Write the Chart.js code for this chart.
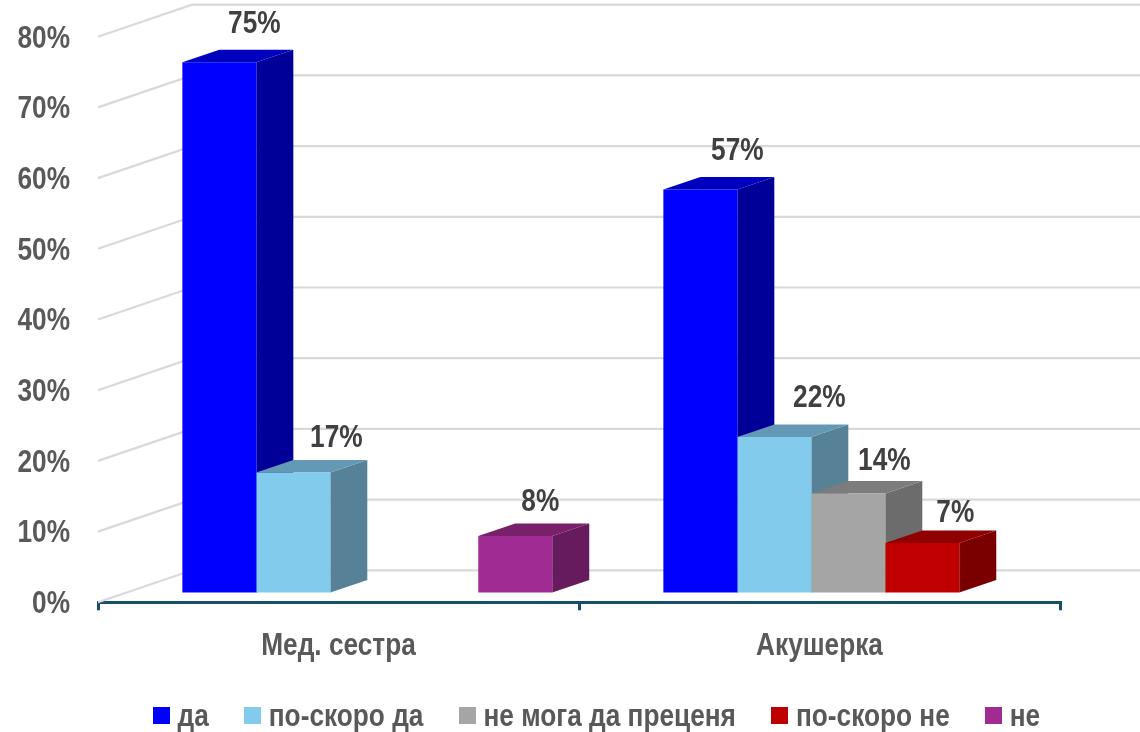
<!DOCTYPE html>
<html><head><meta charset="utf-8">
<style>html,body{margin:0;padding:0;background:#fff}canvas{display:block}</style>
<script src="https://cdn.jsdelivr.net/npm/chart.js@4"></script>
</head><body><canvas id="c" width="1140" height="732"></canvas>
<script>
const categories = ['Мед. сестра', 'Акушерка'];
const seriesNames = ['да', 'по-скоро да', 'не мога да преценя', 'по-скоро не', 'не'];
const da = [75, 57];
const poSkoroDa = [17, 22];
const neMoga = [null, 14];
const poSkoroNe = [null, 7];
const ne = [8, null];
const yTicksMax = 80;
const frontColors = ['#0000ff', '#82cbec', '#a5a5a5', '#c00000', '#a02b93'];
const sideColors = ['#000099', '#568197', '#6c6c6c', '#7a0000', '#651b5d'];
const topColors = ['#0000bf', '#6399b4', '#7c7c7c', '#900000', '#782069'];
const seriesValues = [da, poSkoroDa, neMoga, poSkoroNe, ne];

const FONT = '"Liberation Sans",Arial,sans-serif';
const CONDENSE = 0.82;                   // the reference lettering is a narrow bold
const TEXT_DROP = 2;
const DEPTH = {x: 37, y: 12.5};          // bar depth
const WALL = {x: 94, y: 32};             // back wall offset from the axis plane
const BAR_SHIFT = {x: 28.8, y: -9.7};    // bars stand inside the floor
const RIGHT_EDGE = 1140;
const labelNudge = [[[35, -40], [37, -40]], [[43, -36], [45, -41]], [null, [36, -34]], [null, [33, -32]], [[25, -36], null]];

const canvas = document.getElementById('c');
const context = canvas.getContext('2d');
const rawFill = context.fillText.bind(context);
const rawMeasure = context.measureText.bind(context);
context.fillText = function (t, x, y, maxW) {
  context.save();
  context.translate(x, y + TEXT_DROP);
  context.scale(CONDENSE, 1);
  rawFill(t, 0, 0);
  context.restore();
};
context.measureText = function (t) {
  return {width: rawMeasure(t).width * CONDENSE};
};

function swatch(color) {
  const c = document.createElement('canvas');
  c.width = 17; c.height = 17;
  const g = c.getContext('2d');
  g.fillStyle = color; g.fillRect(0, 0, 17, 17);
  return c;
}

const box3d = {
  id: 'box3d',
  afterLayout(chart) {
    const l = chart.legend;
    l.left = 117.5; l.right = 1140; l.top = 655.5;
    chart.scales.x.bottom = 690;
  },
  beforeDatasetsDraw(chart) {
    const {ctx, scales: {y}, chartArea: a} = chart;
    ctx.save();
    ctx.strokeStyle = '#d9d9d9';
    ctx.lineWidth = 2.2;
    y.ticks.forEach(t => {
      const py = y.getPixelForValue(t.value);
      ctx.beginPath();
      ctx.moveTo(a.left, py);
      ctx.lineTo(a.left + WALL.x, py - WALL.y);
      ctx.lineTo(RIGHT_EDGE, py - WALL.y);
      ctx.stroke();
    });
    ctx.translate(BAR_SHIFT.x, BAR_SHIFT.y);
    chart.data.datasets.forEach((ds, i) => {
      chart.getDatasetMeta(i).data.forEach((bar, j) => {
        if (ds.data[j] == null) return;
        const p = bar.getProps(['x', 'y', 'base', 'width'], true);
        const l = p.x - p.width / 2, r = p.x + p.width / 2;
        ctx.fillStyle = sideColors[i];
        ctx.beginPath();
        ctx.moveTo(r, p.y); ctx.lineTo(r + DEPTH.x, p.y - DEPTH.y);
        ctx.lineTo(r + DEPTH.x, p.base - DEPTH.y); ctx.lineTo(r, p.base);
        ctx.closePath(); ctx.fill();
        ctx.fillStyle = topColors[i];
        ctx.beginPath();
        ctx.moveTo(l, p.y); ctx.lineTo(l + DEPTH.x, p.y - DEPTH.y);
        ctx.lineTo(r + DEPTH.x, p.y - DEPTH.y); ctx.lineTo(r, p.y);
        ctx.closePath(); ctx.fill();
      });
    });
    ctx.restore();
    ctx.save();
    ctx.translate(BAR_SHIFT.x, BAR_SHIFT.y);
  },
  afterDatasetsDraw(chart) {
    const {ctx} = chart;
    ctx.restore();
    ctx.save();
    ctx.font = 'bold 32px ' + FONT;
    ctx.fillStyle = '#404040';
    ctx.textAlign = 'center';
    ctx.textBaseline = 'middle';
    chart.data.datasets.forEach((ds, i) => {
      chart.getDatasetMeta(i).data.forEach((bar, j) => {
        if (ds.data[j] == null) return;
        const p = bar.getProps(['x', 'y'], true);
        const n = labelNudge[i][j];
        ctx.fillText(ds.data[j] + '%', p.x + BAR_SHIFT.x + n[0], p.y + BAR_SHIFT.y + n[1]);
      });
    });
    ctx.restore();
  }
};

new Chart(canvas, {
  type: 'bar',
  data: {
    labels: categories,
    datasets: seriesNames.map((name, i) => ({
      label: name, data: seriesValues[i], backgroundColor: frontColors[i],
      borderWidth: 0, clip: false,
      pointStyle: swatch(frontColors[i])
    }))
  },
  options: {
    responsive: false, animation: false,
    categoryPercentage: 0.769, barPercentage: 1,
    layout: {padding: {top: 36.7, left: 0, right: 80, bottom: 0}},
    plugins: {
      tooltip: {enabled: false},
      legend: {
        position: 'bottom', align: 'start',
        labels: {
          usePointStyle: true, pointStyleWidth: 0.01, padding: 44,
          color: '#595959', font: {family: FONT, size: 32, weight: 'bold'}
        }
      }
    },
    scales: {
      x: {
        afterFit(s) { s.height = 732 - s.chart.legend.height - 602.3; s.paddingLeft = 0; s.paddingRight = 0; },
        border: {color: '#174f6b', width: 3},
        grid: {display: true, drawOnChartArea: false, drawTicks: true, tickLength: 8, color: '#174f6b', lineWidth: 3, offset: true},
        ticks: {color: '#595959', padding: 15, maxRotation: 0, font: {family: FONT, size: 32, weight: 'bold'}}
      },
      y: {
        min: 0, max: yTicksMax,
        afterFit(s) { s.width = 98; s.paddingTop = 0; s.paddingBottom = 0; },
        border: {display: false},
        grid: {display: false},
        ticks: {stepSize: 10, padding: 20, color: '#595959', callback: v => v + '%',
          font: {family: FONT, size: 32, weight: 'bold'}}
      }
    }
  },
  plugins: [box3d]
});
</script></body></html>
